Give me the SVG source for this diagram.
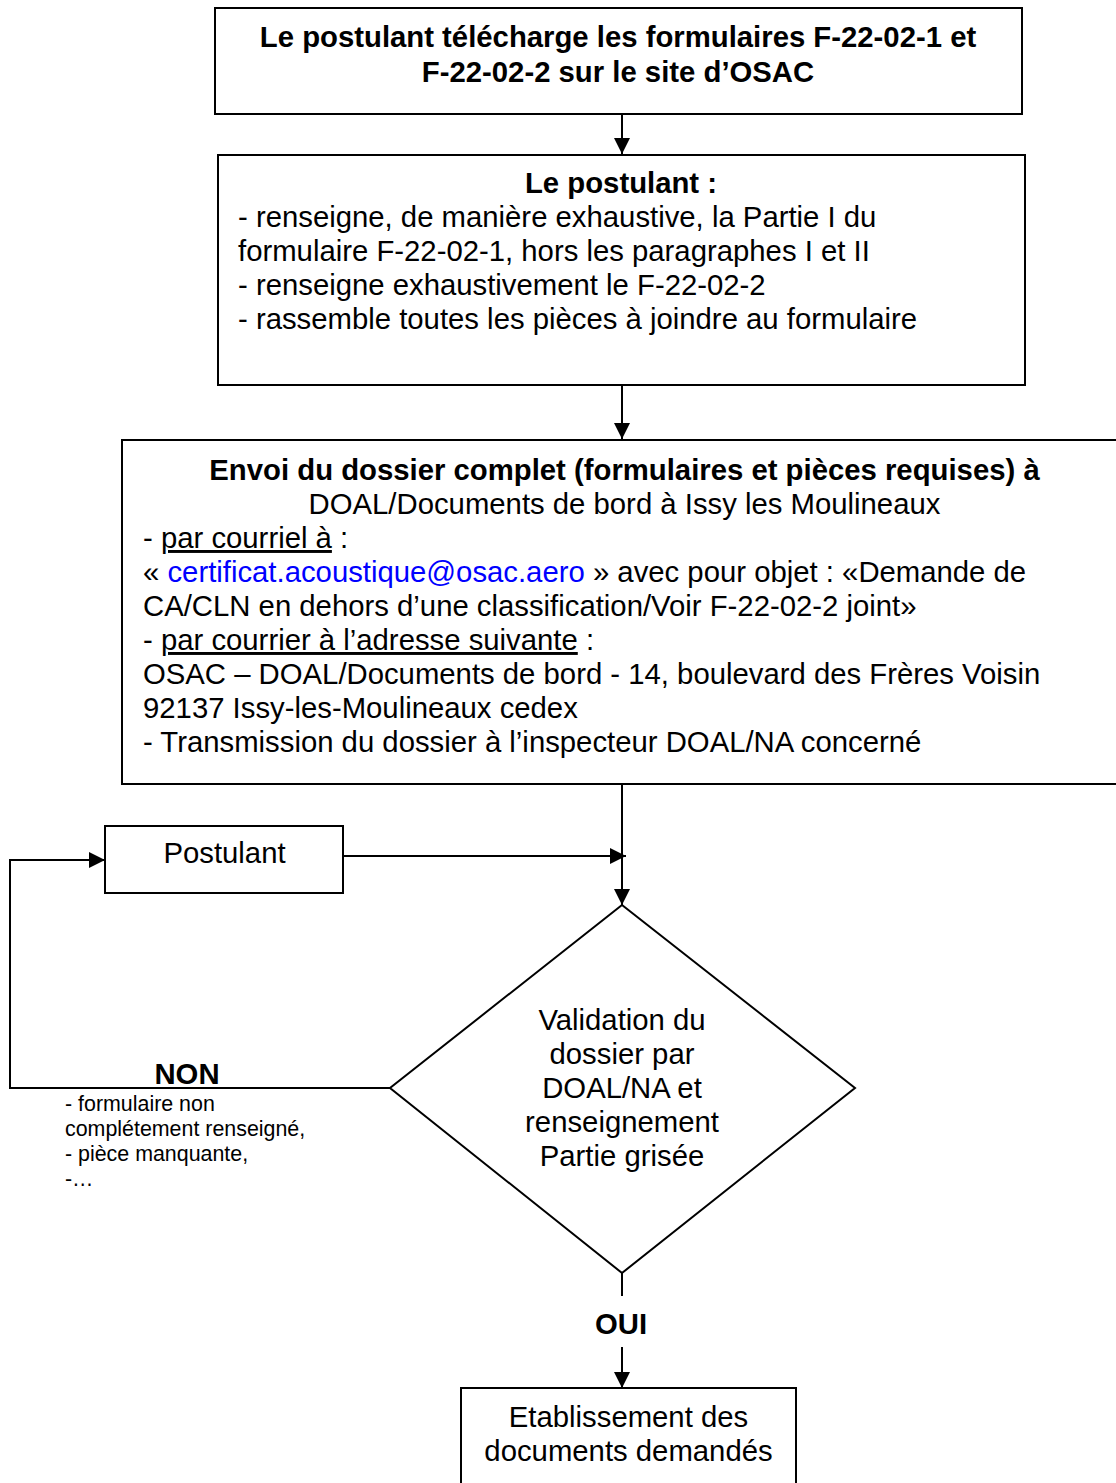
<svg xmlns="http://www.w3.org/2000/svg" width="1116" height="1483" viewBox="0 0 1116 1483">
<style>
text{font-family:"Liberation Sans",Arial,sans-serif;font-size:29.3px;fill:#000}
.b{font-weight:bold}
.c{text-anchor:middle}
.s{font-size:21.4px}
.box{fill:#fff;stroke:#000;stroke-width:2}
.ln{fill:none;stroke:#000;stroke-width:2}
.u{text-decoration:underline}
</style>
<defs>
<marker id="ah2" viewBox="0 0 10 10" refX="10" refY="5" markerWidth="16" markerHeight="16" markerUnits="userSpaceOnUse" orient="auto"><path d="M0,0 L10,5 L0,10 Z" fill="#000"/></marker>
</defs>
<rect width="1116" height="1483" fill="#fff"/>
<g id="connectors">
<line class="ln" x1="622" y1="114" x2="622" y2="154" marker-end="url(#ah2)"/>
<line class="ln" x1="622" y1="385" x2="622" y2="439" marker-end="url(#ah2)"/>
<line class="ln" x1="622" y1="784" x2="622" y2="905" marker-end="url(#ah2)"/>
<line class="ln" x1="343" y1="856" x2="626" y2="856" marker-end="url(#ah2)"/>
<polyline class="ln" points="390,1088 10,1088 10,860 105,860" marker-end="url(#ah2)"/>
<line class="ln" x1="622" y1="1273" x2="622" y2="1296"/>
<line class="ln" x1="622" y1="1347" x2="622" y2="1388" marker-end="url(#ah2)"/>
</g>
<g id="n1">
<rect class="box" x="215" y="8" width="807" height="106"/>
<text class="b c" x="618" y="47">Le postulant télécharge les formulaires F-22-02-1 et</text>
<text class="b c" x="618" y="82">F-22-02-2 sur le site d’OSAC</text>
</g>
<g id="n2">
<rect class="box" x="218" y="155" width="807" height="230"/>
<text class="b c" x="621" y="193">Le postulant :</text>
<text x="238" y="227">- renseigne, de manière exhaustive, la Partie I du</text>
<text x="238" y="261">formulaire F-22-02-1, hors les paragraphes I et II</text>
<text x="238" y="295">- renseigne exhaustivement le F-22-02-2</text>
<text x="238" y="329">- rassemble toutes les pièces à joindre au formulaire</text>
</g>
<g id="n3">
<rect class="box" x="122" y="440" width="1000" height="344"/>
<text class="b c" x="624.5" y="480">Envoi du dossier complet (formulaires et pièces requises) à</text>
<text class="c" x="624.5" y="514">DOAL/Documents de bord à Issy les Moulineaux</text>
<text x="143" y="548">- <tspan class="u">par courriel à</tspan> :</text>
<text x="143" y="582">« <tspan fill="#0000ff">certificat.acoustique@osac.aero</tspan> » avec pour objet : «Demande de</text>
<text x="143" y="616">CA/CLN en dehors d’une classification/Voir F-22-02-2 joint»</text>
<text x="143" y="650">- <tspan class="u">par courrier à l’adresse suivante</tspan> :</text>
<text x="143" y="684">OSAC – DOAL/Documents de bord - 14, boulevard des Frères Voisin</text>
<text x="143" y="718">92137 Issy-les-Moulineaux cedex</text>
<text x="143" y="752">- Transmission du dossier à l’inspecteur DOAL/NA concerné</text>
</g>
<g id="n4">
<rect class="box" x="105" y="826" width="238" height="67"/>
<text class="c" x="224.5" y="863">Postulant</text>
</g>
<g id="n5">
<polygon class="box" points="622,905 855,1088 622,1273 390,1088"/>
<text class="c" x="622" y="1030">Validation du</text>
<text class="c" x="622" y="1064">dossier par</text>
<text class="c" x="622" y="1098">DOAL/NA et</text>
<text class="c" x="622" y="1132">renseignement</text>
<text class="c" x="622" y="1166">Partie grisée</text>
</g>
<g id="lbl-non">
<text class="b c" x="187" y="1084">NON</text>
<text class="s" x="65" y="1111">- formulaire non</text>
<text class="s" x="65" y="1136">complétement renseigné,</text>
<text class="s" x="65" y="1161">- pièce manquante,</text>
<text class="s" x="65" y="1186">-…</text>
</g>
<g id="lbl-oui">
<text class="b c" x="621" y="1334">OUI</text>
</g>
<g id="n6">
<rect class="box" x="461" y="1388" width="335" height="100"/>
<text class="c" x="628.5" y="1427">Etablissement des</text>
<text class="c" x="628.5" y="1461">documents demandés</text>
</g>
</svg>
